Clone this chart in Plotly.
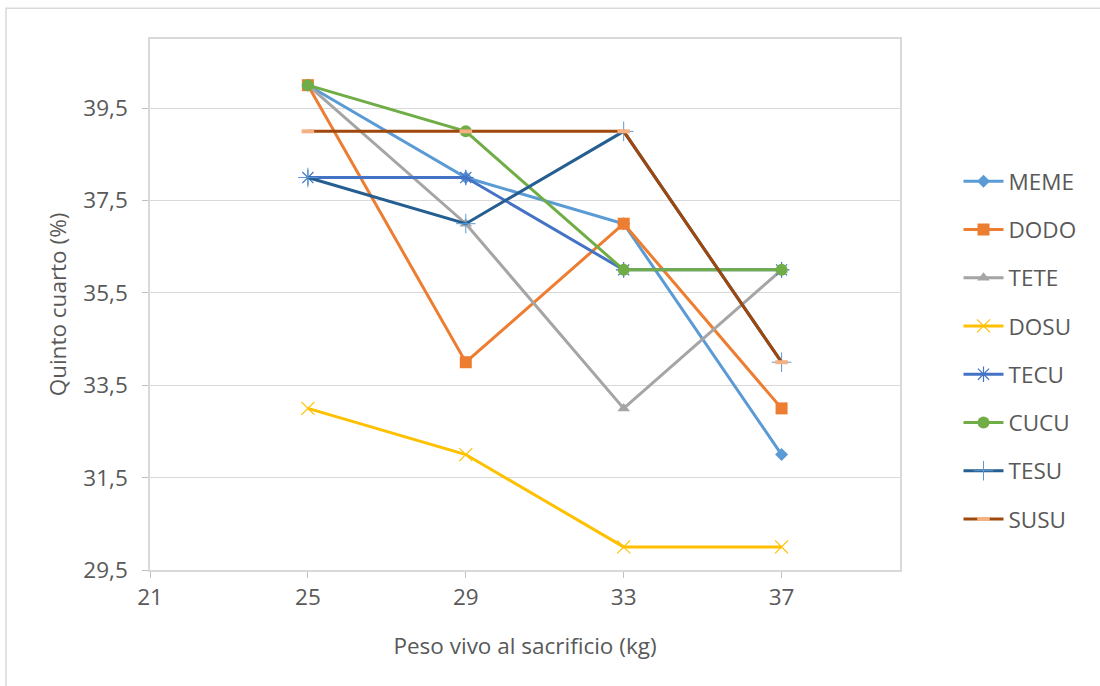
import plotly.graph_objects as go

x_vals = [25, 29, 33, 37]
series_names = ["MEME", "DODO", "TETE", "DOSU", "TECU", "CUCU", "TESU", "SUSU"]
meme = [40, 38, 37, 32]
dodo = [40, 34, 37, 33]
tete = [40, 37, 33, 36]
dosu = [33, 32, 30, 30]
tecu = [38, 38, 36, 36]
cucu = [40, 39, 36, 36]
tesu = [38, 37, 39, 34]
susu = [39, 39, 39, 34]
y_tickvals = [29.5, 31.5, 33.5, 35.5, 37.5, 39.5]
x_tickvals = [21, 25, 29, 33, 37]

values = [meme, dodo, tete, dosu, tecu, cucu, tesu, susu]
line_colors = ["#5B9BD5", "#ED7D31", "#A5A5A5", "#FFC000", "#4472C4", "#70AD47", "#255E91", "#9E480E"]
marker_styles = [
    dict(symbol="diamond", size=10, color="#5B9BD5"),
    dict(symbol="square", size=12, color="#ED7D31"),
    dict(symbol="triangle-up", size=11, color="#A5A5A5"),
    dict(symbol="x-thin", size=13, color="#FFC000", line=dict(color="#FFC000", width=1.2)),
    dict(symbol="asterisk", size=13, color="#4472C4", line=dict(color="#4472C4", width=1.2)),
    dict(symbol="circle", size=12, color="#70AD47"),
    dict(symbol="cross-thin", size=14, color="#5B9BD5", line=dict(color="#5B9BD5", width=1)),
    dict(symbol="line-ew", size=9, color="#F4B183", line=dict(color="#F4B183", width=4)),
]

fig = go.Figure()
for i, (name, vals) in enumerate(zip(series_names, values)):
    fig.add_trace(go.Scatter(
        x=x_vals, y=vals, name=name, mode="lines+markers",
        line=dict(color=line_colors[i], width=3),
        marker=marker_styles[i],
        legendgroup=name,
    ))

font_family = "Open Sans, Liberation Sans, sans-serif"
text_color = "#595959"
fs = 22.5

fig.update_layout(
    width=1100, height=686,
    margin=dict(l=150, r=200, t=39, b=116),
    paper_bgcolor="white", plot_bgcolor="white",
    separators=",.",
    font=dict(family=font_family, color=text_color, size=fs),
    showlegend=True,
    legend=dict(x=1.078, y=0.772, xanchor="left", yanchor="top",
                font=dict(size=fs, color=text_color),
                tracegroupgap=16, itemwidth=40, bgcolor="rgba(0,0,0,0)"),
    xaxis=dict(range=[21, 40], tickvals=x_tickvals, showgrid=False,
               showline=True, linecolor="#D9D9D9", linewidth=1.5, mirror=True,
               ticks="outside", ticklen=6, tickcolor="#BFBFBF",
               tickfont=dict(size=fs, color=text_color),
               title=dict(text="Peso vivo al sacrificio (kg)", font=dict(size=fs, color=text_color), standoff=27),
               zeroline=False),
    yaxis=dict(range=[29.5, 41], tickvals=y_tickvals, tickformat=".1f",
               showgrid=True, gridcolor="#D9D9D9", gridwidth=1.2,
               showline=True, linecolor="#D9D9D9", linewidth=1.5, mirror=True,
               ticks="outside", ticklen=6, tickcolor="#BFBFBF",
               ticklabelstandoff=10,
               tickfont=dict(size=fs, color=text_color),
               title=dict(text="Quinto cuarto (%)", font=dict(size=fs, color=text_color), standoff=10),
               zeroline=False),
    shapes=[dict(type="rect", xref="paper", yref="paper",
                 x0=-0.192, x1=1.4, y0=-0.5, y1=1.058,
                 line=dict(color="#D9D9D9", width=1.5), fillcolor="rgba(0,0,0,0)", layer="below")],
)

fig.write_html("out.html")
